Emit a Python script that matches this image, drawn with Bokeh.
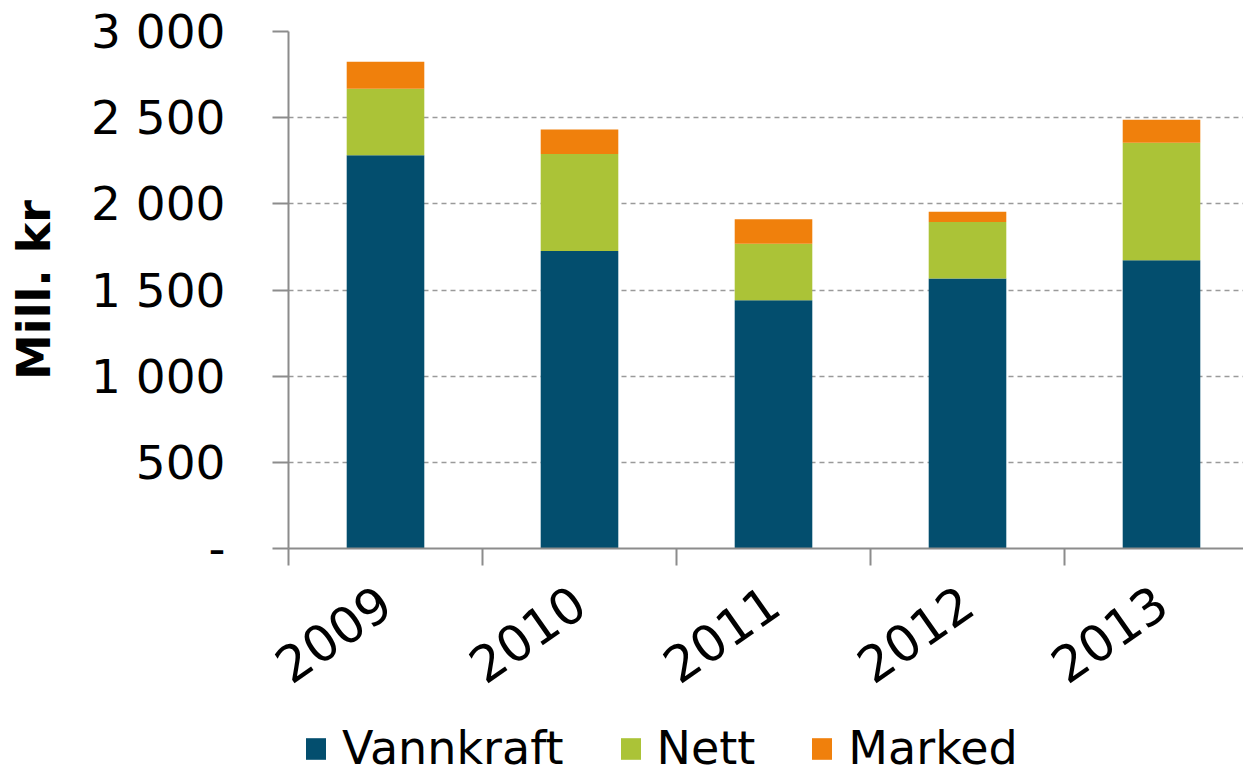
from bokeh.plotting import figure
from bokeh.models import (ColumnDataSource, Range1d, FixedTicker, Legend, LegendItem)
from bokeh.layouts import column
from bokeh.embed import file_html
from bokeh.resources import INLINE
import math

# ---- data ----
years = ["2009", "2010", "2011", "2012", "2013"]
vannkraft = [2282, 1726, 1441, 1567, 1672]
nett = [386, 563, 327, 327, 683]
marked = [157, 143, 142, 60, 133]
series = ["Vannkraft", "Nett", "Marked"]
colors = ["#034E6E", "#ABC337", "#F0800C"]
y_ticks = [0, 500, 1000, 1500, 2000, 2500, 3000]
y_tick_labels = ["-", "500", "1 000", "1 500", "2 000", "2 500", "3 000"]

FONT = "DejaVu Sans"
x_pos = [i + 0.5 for i in range(len(years))]

src = ColumnDataSource(dict(x=x_pos, Vannkraft=vannkraft, Nett=nett, Marked=marked))

FW, FH = 955, 517
p = figure(frame_width=FW, frame_height=FH, output_backend="svg", toolbar_location=None,
           x_range=Range1d(0, FW / 194.0), y_range=Range1d(0, 3000),
           min_border_left=288, min_border_right=0, min_border_top=31,
           min_border_bottom=163)
p.outline_line_color = None
p.background_fill_color = "white"
p.border_fill_color = "white"

renderers = p.vbar_stack(series, x="x", width=0.4, color=colors, source=src,
                         line_color=None)

# x axis
xa = p.xaxis[0]
xa.ticker = FixedTicker(ticks=x_pos, minor_ticks=list(range(len(years) + 1)))
xa.major_label_overrides = {x: y for x, y in zip(x_pos, years)}
xa.major_tick_line_color = None
xa.major_tick_out = 0
xa.major_tick_in = 0
xa.minor_tick_out = 17
xa.minor_tick_in = 0
xa.minor_tick_line_color = "#8c8c8c"
xa.minor_tick_line_width = 2
xa.axis_line_color = "#8c8c8c"
xa.axis_line_width = 2
xa.major_label_orientation = math.radians(35)
xa.major_label_text_font = FONT
xa.major_label_text_font_size = "50px"
xa.major_label_text_color = "black"
xa.major_label_standoff = 32

# y axis
ya = p.yaxis[0]
ya.ticker = FixedTicker(ticks=y_ticks, minor_ticks=[])
ya.major_label_overrides = {t: l for t, l in zip(y_ticks, y_tick_labels)}
ya.major_tick_out = 16
ya.major_tick_in = 0
ya.major_tick_line_color = "#8c8c8c"
ya.major_tick_line_width = 2
ya.axis_line_color = "#8c8c8c"
ya.axis_line_width = 2
ya.major_label_text_font = FONT
ya.major_label_text_font_size = "47px"
ya.major_label_text_color = "black"
ya.major_label_standoff = 47
ya.axis_label = "Mill. kr"
ya.axis_label_text_font = FONT
ya.axis_label_text_font_size = "46px"
ya.axis_label_text_font_style = "bold"
ya.axis_label_text_color = "black"
ya.axis_label_standoff = 27

p.xgrid.grid_line_color = None
p.ygrid.grid_line_color = "#9a9a9a"
p.ygrid.grid_line_dash = "5 4"
p.ygrid.grid_line_width = 1.5

# legend strip (separate figure below the chart)
p2 = figure(width=288 + FW, height=72, output_backend="svg", toolbar_location=None,
            x_range=Range1d(0, 1), y_range=Range1d(0, 1),
            min_border=0, x_axis_type=None, y_axis_type=None)
p2.outline_line_color = None
p2.grid.grid_line_color = None
p2.background_fill_color = "white"
p2.border_fill_color = "white"
# legend-only renderers (one zero-height bar outside the visible range each)
dummy = ColumnDataSource(dict(x=[-5.0], top=[0.0]))
leg_rs = [p2.vbar(x="x", top="top", width=0.1, color=c, line_color=None, source=dummy)
          for c in colors]
items = [LegendItem(label=s, renderers=[r]) for s, r in zip(series, leg_rs)]
leg = Legend(items=items, orientation="horizontal", location=(15, 8),
             glyph_width=25, glyph_height=27, label_height=27,
             label_standoff=14, spacing=54,
             label_text_font=FONT, label_text_font_size="46px",
             label_text_line_height=0.5,
             label_text_color="black", padding=0, margin=0,
             border_line_color=None, background_fill_alpha=0)
p2.add_layout(leg, "center")

layout = column(p, p2, spacing=0)
open("out.html", "w").write(file_html(layout, INLINE))
